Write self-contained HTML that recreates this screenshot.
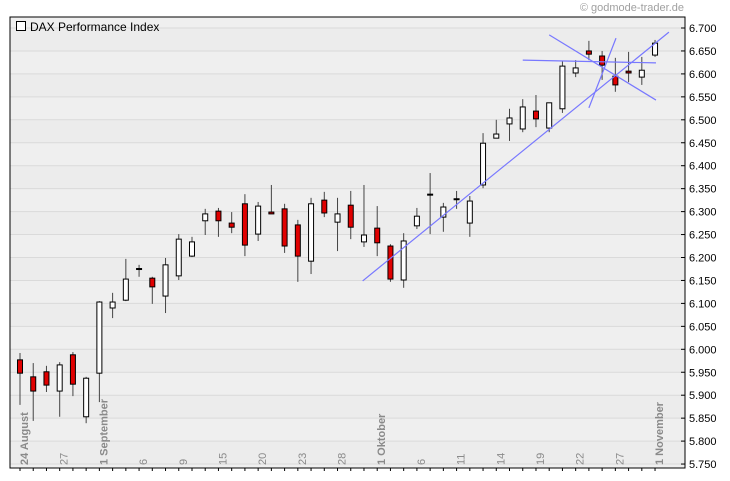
<!DOCTYPE html>
<html><head><meta charset="utf-8"><style>
html,body{margin:0;padding:0;background:#fff;}
svg{display:block;font-family:"Liberation Sans",sans-serif;}
</style></head><body>
<svg id="chart" width="730" height="481" viewBox="0 0 730 481">
<text x="684" y="11" text-anchor="end" font-size="11" fill="#a0a0a0">© godmode-trader.de</text>
<g id="plot"></g>
</svg>
<script>
const opens  = [5.977,5.940,5.951,5.909,5.988,5.853,5.948,6.090,6.107,6.175,6.155,6.116,6.160,6.203,6.280,6.301,6.275,6.317,6.251,6.299,6.306,6.271,6.192,6.325,6.277,6.314,6.234,6.264,6.225,6.151,6.269,6.338,6.288,6.327,6.275,6.358,6.460,6.491,6.480,6.519,6.482,6.524,6.602,6.650,6.639,6.595,6.606,6.593,6.641];
const highs  = [5.992,5.970,5.964,5.972,5.994,5.940,6.105,6.123,6.197,6.184,6.158,6.199,6.251,6.245,6.306,6.308,6.299,6.338,6.321,6.358,6.317,6.282,6.330,6.343,6.330,6.345,6.358,6.312,6.229,6.253,6.308,6.384,6.319,6.345,6.334,6.471,6.500,6.524,6.545,6.554,6.537,6.628,6.630,6.672,6.650,6.635,6.648,6.637,6.674];
const lows   = [5.879,5.844,5.907,5.853,5.898,5.839,5.885,6.068,6.105,6.158,6.099,6.079,6.151,6.201,6.249,6.245,6.253,6.203,6.236,6.295,6.210,6.147,6.164,6.288,6.214,6.240,6.223,6.203,6.147,6.134,6.262,6.251,6.256,6.306,6.245,6.351,6.460,6.454,6.473,6.484,6.473,6.515,6.593,6.630,6.587,6.561,6.582,6.576,6.637];
const closes = [5.948,5.909,5.922,5.966,5.924,5.937,6.103,6.103,6.153,6.176,6.136,6.184,6.240,6.234,6.295,6.280,6.266,6.227,6.312,6.295,6.225,6.203,6.317,6.297,6.295,6.266,6.249,6.232,6.153,6.236,6.290,6.337,6.310,6.328,6.323,6.449,6.469,6.504,6.528,6.502,6.537,6.617,6.613,6.643,6.619,6.576,6.602,6.608,6.667];
const yTicks = [5.75,5.80,5.85,5.90,5.95,6.00,6.05,6.10,6.15,6.20,6.25,6.30,6.35,6.40,6.45,6.50,6.55,6.60,6.65,6.70];
const dateLabels = ["24 August","27","1 September","6","9","15","20","23","28","1 Oktober","6","11","14","19","22","27","1 November"];
const dateIdx    = [0,3,6,9,12,15,18,21,24,27,30,33,36,39,42,45,48];
const dateBold   = [1,0,1,0,0,0,0,0,0,1,0,0,0,0,0,0,1];
const trendStart = [[25.9,6.149],[40.0,6.685],[43.0,6.526],[38.0,6.630]];
const trendEnd   = [[49.05,6.691],[48.07,6.543],[45.05,6.678],[48.07,6.624]];

const L=10,R=685,T=17,B=468;
const X=i=>20+i*13.23;
const Y=p=>28+(6.7-p)*459;
const NS="http://www.w3.org/2000/svg";
const g=document.getElementById('plot');
function mk(tag,attrs){const e=document.createElementNS(NS,tag);for(const k in attrs)e.setAttribute(k,attrs[k]);g.appendChild(e);return e;}

let bg=mk('rect',{x:L,y:T,width:R-L,height:B-T,fill:'#efefef'});


for(let k=0;k<yTicks.length;k++){
  if(k%2===0&&k<yTicks.length-1){
    const band=mk('rect',{x:L,y:Y(yTicks[k+1]),width:R-L,height:Y(yTicks[k])-Y(yTicks[k+1]),fill:'#ececec'});
    
    
  }
}
yTicks.forEach(v=>{
  const y=Y(v);
  const gl=mk('line',{x1:L,x2:R,y1:y,y2:y,stroke:'#dadada','stroke-width':1});
  
  
  const tk=mk('line',{x1:R-4,x2:R,y1:y,y2:y,stroke:'#000'});
  
  
  const t=mk('text',{x:R+4,y:y+4,'font-size':11,fill:'#000'});
  t.textContent=v.toFixed(3);
  
  
});
for(let i=0;i<opens.length;i++){
  const tk=mk('line',{x1:X(i),x2:X(i),y1:B,y2:B+3,stroke:'#000'});
  
  
}
dateLabels.forEach((s,k)=>{
  const x=X(dateIdx[k])+8, y=B-3;
  const t=mk('text',{x:x,y:y,transform:`rotate(-90 ${x} ${y})`,'font-size':11,fill:'#8a8a8a','font-weight':dateBold[k]?'bold':'normal'});
  t.textContent=s;
  
  
});
for(let i=0;i<opens.length;i++){
  const x=X(i);
  const w=mk('line',{x1:x,x2:x,y1:Y(highs[i]),y2:Y(lows[i]),stroke:'#444','stroke-width':1});
  
  
  const top=Y(Math.max(opens[i],closes[i])), bot=Y(Math.min(opens[i],closes[i]));
  const up=closes[i]>=opens[i];
  const b=mk('rect',{x:x-2.5,y:top,width:5,height:Math.max(bot-top,1),fill:up?'#fff':'#e00000',stroke:'#000','stroke-width':1});
  
  
}
for(let k=0;k<trendStart.length;k++){
  const ln=mk('line',{x1:X(trendStart[k][0]),y1:Y(trendStart[k][1]),x2:X(trendEnd[k][0]),y2:Y(trendEnd[k][1]),stroke:'#7878ff','stroke-width':1.2});
  
  
}
const fr=mk('rect',{x:L,y:T,width:R-L,height:B-T,fill:'none',stroke:'#000','stroke-width':1});


const lb=mk('rect',{x:16.5,y:21.5,width:9,height:9,fill:'#fff',stroke:'#000'});


const lt=mk('text',{x:30,y:31,'font-size':12,fill:'#000'});
lt.textContent='DAX Performance Index';


</script>
</body></html>
